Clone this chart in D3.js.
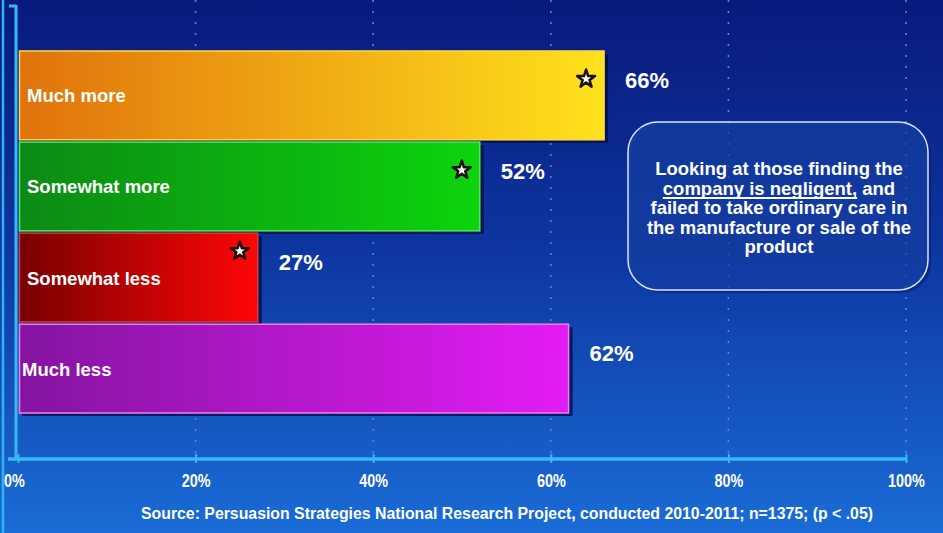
<!DOCTYPE html>
<html><head><meta charset="utf-8">
<script src="https://cdn.jsdelivr.net/npm/d3@7"></script>
<style>html,body{margin:0;padding:0;background:#0a1a80;overflow:hidden}</style>
</head><body>
<svg id="c" width="943" height="533"></svg>
<script>
const categories = ["Much more", "Somewhat more", "Somewhat less", "Much less"];
const values = [66, 52, 27, 62];
const significant = [true, true, true, false];
const tickValues = [0, 20, 40, 60, 80, 100];
const tickLabels = ["0%", "20%", "40%", "60%", "80%", "100%"];
const barColors = [["#e0720c", "#ffe21c"], ["#0c8a14", "#0cd40c"], ["#7a0000", "#ff0606"], ["#8414a0", "#e41cf4"]];
const borderColors = ["#ffd84a", "#5ae85a", "#c84040", "#f080f0"];
const noteLines = ["Looking at those finding the", "company is negligent, and", "failed to take ordinary care in", "the manufacture or sale of the", "product"];
const sourceText = "Source: Persuasion Strategies National Research Project, conducted 2010-2011; n=1375; (p < .05)";

const W = 943, H = 533;
const svg = d3.select("#c");
const defs = svg.append("defs");
const SANS = "Arial, 'Liberation Sans', sans-serif";

const bg = defs.append("linearGradient").attr("id", "bg").attr("x1", 0).attr("y1", 0).attr("x2", 0).attr("y2", 1);
bg.append("stop").attr("offset", "0%").attr("stop-color", "#081a7c");
bg.append("stop").attr("offset", "45%").attr("stop-color", "#0d349e");
bg.append("stop").attr("offset", "100%").attr("stop-color", "#1a6cd6");
svg.append("rect").attr("width", W).attr("height", H).attr("fill", "url(#bg)");
svg.append("line").attr("x1", 3).attr("x2", 3).attr("y1", 0).attr("y2", H).attr("stroke", "#30b4f0").attr("stroke-width", 2.5);

barColors.forEach((c, i) => {
  const g = defs.append("linearGradient").attr("id", "bar" + i).attr("x1", 0).attr("x2", 1).attr("y1", 0).attr("y2", 0);
  g.append("stop").attr("offset", "0%").attr("stop-color", c[0]);
  g.append("stop").attr("offset", "100%").attr("stop-color", c[1]);
});

const x = d3.scaleLinear().domain([0, 100]).range([18, 906]);
const y = d3.scaleBand().domain(categories).range([51, 413]).paddingInner(0.025).paddingOuter(0);
const axisY = 459;

svg.append("g").selectAll("line").data(tickValues.filter(d => d > 0)).join("line")
  .attr("x1", d => x(d)).attr("x2", d => x(d)).attr("y1", 0).attr("y2", axisY)
  .attr("stroke", "#5a8ce0").attr("stroke-width", 1.5).attr("stroke-dasharray", "2,9");

const bars = svg.append("g").selectAll("g").data(categories).join("g");
bars.append("rect")
  .attr("x", x(0) + 4).attr("y", (d, i) => y(d) + 3)
  .attr("width", (d, i) => x(values[i]) - x(0)).attr("height", y.bandwidth())
  .attr("fill", "#030a40").attr("opacity", 0.75);
bars.append("rect")
  .attr("x", x(0) + 1.5).attr("y", d => y(d))
  .attr("width", (d, i) => x(values[i]) - x(0) - 1.5).attr("height", y.bandwidth())
  .attr("fill", (d, i) => `url(#bar${i})`)
  .attr("stroke", (d, i) => borderColors[i]).attr("stroke-width", 1.5);

bars.append("text")
  .attr("x", (d, i) => i === 3 ? 22 : 27).attr("y", d => y(d) + y.bandwidth() / 2 + 7)
  .attr("fill", "#ffffff").attr("font-family", SANS)
  .attr("font-weight", "bold").attr("font-size", 18.5).text(d => d);

bars.append("text")
  .attr("x", (d, i) => x(values[i]) + 21).attr("y", d => y(d) + 37)
  .attr("fill", "#ffffff").attr("font-family", SANS)
  .attr("font-weight", "bold").attr("font-size", 22).text((d, i) => values[i] + "%");

const star = d3.symbol().type(d3.symbolStar).size(100);
bars.filter((d, i) => significant[i]).append("path")
  .attr("d", star)
  .attr("transform", d => {
    const i = categories.indexOf(d);
    const dy = i === 2 ? 18 : 28;
    return `translate(${x(values[i]) - 18},${y(d) + dy})`;
  })
  .attr("fill", "#ffffff").attr("stroke", "#1a1208").attr("stroke-width", 2.5).attr("stroke-linejoin", "round");

svg.append("line").attr("x1", x(0) - 2).attr("x2", x(0) - 2).attr("y1", 5).attr("y2", axisY)
  .attr("stroke", "#38b8f8").attr("stroke-width", 3);
svg.append("line").attr("x1", 9).attr("x2", x(0) - 2).attr("y1", 6).attr("y2", 6)
  .attr("stroke", "#38b8f8").attr("stroke-width", 3);
const axis = d3.axisBottom(x).tickValues(tickValues).tickFormat((d, i) => tickLabels[i]).tickSize(5).tickSizeOuter(0);
const ag = svg.append("g").attr("transform", `translate(0,${axisY})`).call(axis);
ag.select(".domain").attr("stroke", "#38b8f8").attr("stroke-width", 3.5).attr("d", `M8,0H${x(100)}`);
ag.selectAll(".tick line").attr("stroke", "#38b8f8").attr("stroke-width", 2).attr("y1", -5).attr("y2", 4);
ag.selectAll(".tick text").attr("fill", "#ffffff").attr("font-family", SANS)
  .attr("font-weight", "bold").attr("font-size", 18).attr("y", 28).attr("dy", 0)
  .attr("transform", d => d === 0 ? "translate(-4,0) scale(0.8,1)" : "scale(0.8,1)");

svg.append("rect").attr("x", 631).attr("y", 125).attr("width", 300).attr("height", 168).attr("rx", 30)
  .attr("fill", "#030c50").attr("opacity", 0.35);
svg.append("rect").attr("x", 628).attr("y", 122).attr("width", 300).attr("height", 168).attr("rx", 30)
  .attr("fill", "#1a4cb8").attr("fill-opacity", 0.55).attr("stroke", "#d8e4ff").attr("stroke-width", 1.5);
const lineH = 19.5, base0 = 175;
const nt = svg.append("g").selectAll("text").data(noteLines).join("text")
  .attr("x", 779).attr("y", (d, i) => base0 + i * lineH).attr("text-anchor", "middle")
  .attr("fill", "#ffffff").attr("font-family", SANS)
  .attr("font-weight", "bold").attr("font-size", 18.5);
nt.each(function (d, i) {
  const t = d3.select(this);
  if (i === 1) {
    t.append("tspan").text("company is negligent,");
    t.append("tspan").text(" and");
  } else t.text(d);
});
const l1 = nt.filter((d, i) => i === 1).node();
const b = l1.getBBox();
const uw = l1.firstChild.getComputedTextLength();
svg.append("line").attr("x1", b.x).attr("x2", b.x + uw).attr("y1", base0 + lineH + 3.5).attr("y2", base0 + lineH + 3.5)
  .attr("stroke", "#fff").attr("stroke-width", 2);

svg.append("text").attr("x", 507).attr("y", 519).attr("text-anchor", "middle")
  .attr("fill", "#ffffff").attr("font-family", SANS)
  .attr("font-weight", "bold").attr("font-size", 16)
  .attr("textLength", 732).attr("lengthAdjust", "spacingAndGlyphs").text(sourceText);
</script>
</body></html>
